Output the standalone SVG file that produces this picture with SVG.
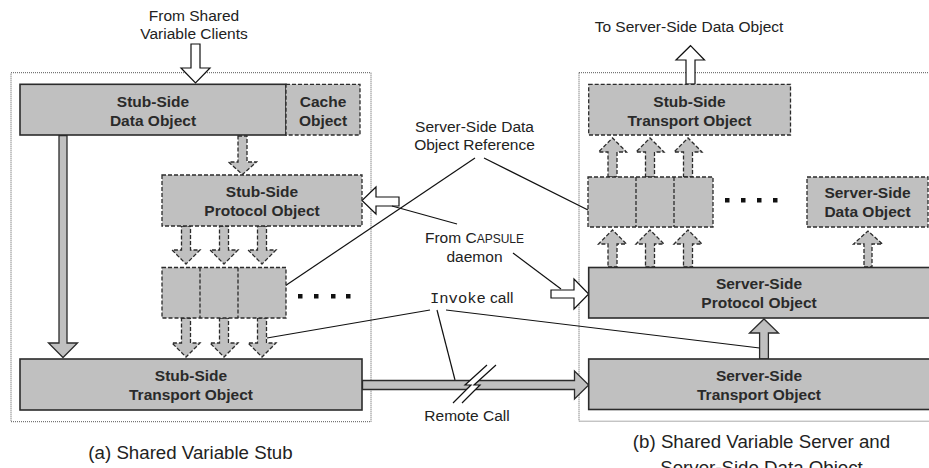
<svg xmlns="http://www.w3.org/2000/svg" width="929" height="468" viewBox="0 0 929 468">
<defs>
<style>
text{font-family:"Liberation Sans",Arial,sans-serif;fill:#222}
.lbl{font-size:15.5px;text-anchor:middle}
.nb{font-size:15.5px;font-weight:bold;text-anchor:middle;fill:#2a2a2a}
.cap{font-size:18.7px;text-anchor:middle}
.mono{font-family:"Liberation Mono","Courier New",monospace}
.frame{fill:none;stroke:#555;stroke-width:1;stroke-dasharray:1 1}
.solid{fill:#c0c0c0;stroke:#2b2b2b;stroke-width:1.6}
.dash{fill:#c0c0c0;stroke:#2b2b2b;stroke-width:1.3;stroke-dasharray:4 2}
.sarr{fill:#c0c0c0;stroke:#2b2b2b;stroke-width:1.3}
.darr{fill:#c0c0c0;stroke:#2b2b2b;stroke-width:1.3;stroke-dasharray:4 2}
.warr{fill:#fff;stroke:#111;stroke-width:1.2}
.ln{fill:none;stroke:#111;stroke-width:1.2}
.dot{fill:#111}
</style>
</defs>

<!-- frames -->
<rect class="frame" x="11" y="72.7" width="360" height="349"/>
<rect class="frame" x="579" y="72.7" width="360" height="348.5"/>

<!-- free labels -->
<text class="lbl" x="194" y="20.5">From Shared</text>
<text class="lbl" x="194" y="38.8">Variable Clients</text>
<text class="lbl" x="689" y="31.7">To Server-Side Data Object</text>
<text class="lbl" x="474.5" y="131.7">Server-Side Data</text>
<text class="lbl" x="474.5" y="150">Object Reference</text>
<text class="lbl" x="474.5" y="243">From C<tspan font-size="12">APSULE</tspan></text>
<text class="lbl" x="474.5" y="262">daemon</text>
<text x="430" y="302.7" font-size="15.5"><tspan class="mono">Invoke</tspan> call</text>
<text class="lbl" x="467" y="420.5">Remote Call</text>
<text class="cap" x="190.5" y="459.3">(a) Shared Variable Stub</text>
<text class="cap" x="761.5" y="448.3">(b) Shared Variable Server and</text>
<text class="cap" x="761.5" y="474">Server-Side Data Object</text>

<!-- connectors -->
<g id="connectors">
  <!-- from clients -->
  <polygon class="warr" points="191,44 200,44 200,68 210,68 195.5,83 181,68 191,68"/>
  <!-- to server-side data object -->
  <polygon class="warr" points="686,84 695,84 695,60 704.5,60 690.5,45.7 676,60 686,60"/>
  <!-- stub data -> stub transport -->
  <polygon class="sarr" points="59,135.5 67,135.5 67,343 77.5,343 63,357.5 48.5,343 59,343"/>
  <!-- stub data -> stub protocol -->
  <polygon class="darr" points="238,136 247,136 247,162 256.5,162 242.5,174.5 228.5,162 238,162"/>
  <!-- stub protocol -> slots -->
  <polygon class="darr" points="181.5,226 190.5,226 190.5,250 200,250 186,264 172,250 181.5,250"/>
  <polygon class="darr" points="219.5,226 228.5,226 228.5,250 238,250 224,264 210,250 219.5,250"/>
  <polygon class="darr" points="257.5,226 266.5,226 266.5,250 276,250 262,264 248,250 257.5,250"/>
  <!-- slots -> stub transport -->
  <polygon class="darr" points="181.5,318 190.5,318 190.5,343 200,343 186,357 172,343 181.5,343"/>
  <polygon class="darr" points="219.5,318 228.5,318 228.5,343 238,343 224,357 210,343 219.5,343"/>
  <polygon class="darr" points="257.5,318 266.5,318 266.5,343 276,343 262,357 248,343 257.5,343"/>
  <!-- from capsule daemon into stub protocol -->
  <polygon class="warr" points="399,197 376,197 376,187 362,200.5 376,214 376,206 399,206"/>
  <!-- from capsule daemon into server protocol -->
  <polygon class="warr" points="551,290 574,290 574,279 588.7,294 574,309 574,298 551,298"/>
  <!-- server protocol -> slots -->
  <polygon class="darr" points="608,267 617,267 617,244 626.5,244 612.5,230 598.5,244 608,244"/>
  <polygon class="darr" points="645.5,267 654.5,267 654.5,244 664,244 650,230 636,244 645.5,244"/>
  <polygon class="darr" points="683.5,267 692.5,267 692.5,244 702,244 688,230 674,244 683.5,244"/>
  <!-- server slots -> server stub-side transport -->
  <polygon class="darr" points="608,177 617,177 617,152 626.5,152 612.5,138 598.5,152 608,152"/>
  <polygon class="darr" points="645.5,177 654.5,177 654.5,152 664,152 650,138 636,152 645.5,152"/>
  <polygon class="darr" points="683.5,177 692.5,177 692.5,152 702,152 688,138 674,152 683.5,152"/>
  <!-- server protocol -> server data object -->
  <polygon class="darr" points="864,267 872,267 872,244 882.5,244 868,231 853.5,244 864,244"/>
  <!-- server transport -> server protocol -->
  <polygon class="sarr" points="759.6,359 768.4,359 768.4,333 778.5,333 764,319 749.5,333 759.6,333"/>
  <!-- remote call -->
  <polygon class="sarr" points="362.5,380.5 574.5,380.5 574.5,371 588.7,385 574.5,399 574.5,389.5 362.5,389.5"/>
  <polygon points="487,365 465,385 471,385 453,403 462,403 480,385 474,385 496,365" fill="#fff"/>
  <polyline class="ln" points="487,365 465,385 471,385 453,403"/>
  <polyline class="ln" points="496,365 474,385 480,385 462,403"/>
  <!-- annotation lines -->
  <line class="ln" x1="475" y1="158" x2="276" y2="292"/>
  <line class="ln" x1="484" y1="158" x2="598" y2="215"/>
  <line class="ln" x1="392" y1="206" x2="457" y2="224"/>
  <line class="ln" x1="513" y1="253" x2="561" y2="289"/>
  <line class="ln" x1="430" y1="310" x2="267" y2="338"/>
  <line class="ln" x1="437" y1="310" x2="455" y2="380"/>
  <line class="ln" x1="446" y1="310" x2="759.6" y2="348"/>
</g>

<!-- stub side nodes -->
<g id="stub-data">
  <rect class="solid" x="20" y="84.3" width="266" height="50.7"/>
  <text class="nb" x="153" y="107.3">Stub-Side</text>
  <text class="nb" x="153" y="125.5">Data Object</text>
</g>
<g id="cache">
  <rect class="dash" x="286" y="84.3" width="74" height="50.7"/>
  <text class="nb" x="323" y="107.3">Cache</text>
  <text class="nb" x="323" y="125.5">Object</text>
</g>
<g id="stub-protocol">
  <rect class="dash" x="162" y="175" width="200" height="51"/>
  <text class="nb" x="262" y="197">Stub-Side</text>
  <text class="nb" x="262" y="215.5">Protocol Object</text>
</g>
<g id="stub-slots">
  <rect class="dash" x="162" y="267.5" width="124" height="50.5"/>
  <line x1="200" y1="267.5" x2="200" y2="318" stroke="#2b2b2b" stroke-width="1.3" stroke-dasharray="4 2"/>
  <line x1="238" y1="267.5" x2="238" y2="318" stroke="#2b2b2b" stroke-width="1.3" stroke-dasharray="4 2"/>
  <rect class="dot" x="298" y="294" width="4.5" height="4.5"/>
  <rect class="dot" x="314" y="294" width="4.5" height="4.5"/>
  <rect class="dot" x="331" y="294" width="4.5" height="4.5"/>
  <rect class="dot" x="346" y="294" width="4.5" height="4.5"/>
</g>
<g id="stub-transport">
  <rect class="solid" x="20" y="359" width="342" height="51"/>
  <text class="nb" x="191" y="381">Stub-Side</text>
  <text class="nb" x="191" y="400">Transport Object</text>
</g>

<!-- server side nodes -->
<g id="server-stub-transport">
  <rect class="dash" x="588.7" y="84.3" width="201.8" height="50.7"/>
  <text class="nb" x="689.5" y="107.3">Stub-Side</text>
  <text class="nb" x="689.5" y="126">Transport Object</text>
</g>
<g id="server-slots">
  <rect class="dash" x="588" y="177" width="125" height="50"/>
  <line x1="636" y1="177" x2="636" y2="227" stroke="#2b2b2b" stroke-width="1.3" stroke-dasharray="4 2"/>
  <line x1="674" y1="177" x2="674" y2="227" stroke="#2b2b2b" stroke-width="1.3" stroke-dasharray="4 2"/>
  <rect class="dot" x="725" y="198" width="4.5" height="4.5"/>
  <rect class="dot" x="741" y="198" width="4.5" height="4.5"/>
  <rect class="dot" x="757" y="198" width="4.5" height="4.5"/>
  <rect class="dot" x="773" y="198" width="4.5" height="4.5"/>
</g>
<g id="server-data">
  <rect class="dash" x="807" y="177" width="121" height="50"/>
  <text class="nb" x="867.5" y="198">Server-Side</text>
  <text class="nb" x="867.5" y="217">Data Object</text>
</g>
<g id="server-protocol">
  <rect class="solid" x="588.7" y="267.5" width="346" height="50.5"/>
  <text class="nb" x="759" y="289">Server-Side</text>
  <text class="nb" x="759" y="307.5">Protocol Object</text>
</g>
<g id="server-transport">
  <rect class="solid" x="588.7" y="359" width="346" height="50.5"/>
  <text class="nb" x="759" y="381">Server-Side</text>
  <text class="nb" x="759" y="400">Transport Object</text>
</g>
</svg>
